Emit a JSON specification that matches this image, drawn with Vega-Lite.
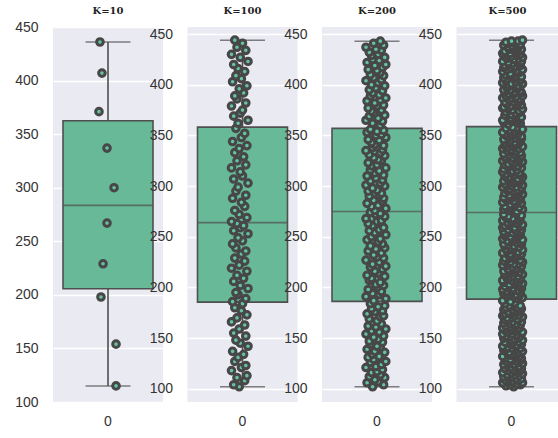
{
"$schema": "https://vega.github.io/schema/vega-lite/v6.json",
"background": "white",
"bounds": "flush",
"spacing": 24.5,
"padding": {"left": 14, "top": 6, "right": 0, "bottom": 0},
"config": {
  "view": {"fill": "#eaeaf2", "stroke": null},
  "axis": {"labelFont": "Liberation Sans", "labelFontSize": 14, "labelColor": "#333333", "ticks": false, "tickSize": 0, "domain": false, "gridColor": "#ffffff", "gridWidth": 1.6, "labelPadding": 15},
  "axisX": {"grid": false, "labelAngle": 0, "labelPadding": 12},
  "title": {"font": "DejaVu Serif", "fontSize": 10, "fontWeight": "bold", "color": "#222222", "anchor": "middle", "frame": "group", "offset": 11, "baseline": "alphabetic"}
},
"datasets": {
"k10": [{"v":436,"j":-0.073},{"v":407,"j":-0.055},{"v":371,"j":-0.082},{"v":337,"j":-0.009},{"v":300,"j":0.055},{"v":267,"j":-0.009},{"v":229,"j":-0.045},{"v":198,"j":-0.064},{"v":154,"j":0.073},{"v":115,"j":0.073}],
"k100": [
{"v":102,"j":-0.03},{"v":104,"j":-0.08},{"v":108,"j":0.02},{"v":111,"j":-0.05},{"v":113,"j":0.04},{"v":118,"j":-0.10},{"v":121,"j":-0.01},{"v":123,"j":0.03},{"v":127,"j":-0.07},{"v":131,"j":-0.04},
{"v":134,"j":0.01},{"v":137,"j":-0.09},{"v":142,"j":0.05},{"v":145,"j":-0.02},{"v":148,"j":-0.06},{"v":152,"j":0.03},{"v":155,"j":-0.08},{"v":159,"j":-0.03},{"v":163,"j":0.02},{"v":166,"j":-0.10},
{"v":170,"j":-0.05},{"v":173,"j":0.04},{"v":177,"j":-0.01},{"v":180,"j":-0.07},{"v":184,"j":0.00},{"v":186,"j":-0.09},{"v":189,"j":0.03},{"v":193,"j":-0.04},{"v":195,"j":-0.06},{"v":199,"j":0.05},
{"v":202,"j":-0.02},{"v":206,"j":-0.08},{"v":209,"j":0.01},{"v":212,"j":-0.05},{"v":216,"j":0.04},{"v":219,"j":-0.10},{"v":222,"j":-0.03},{"v":226,"j":0.02},{"v":229,"j":-0.07},{"v":233,"j":-0.01},
{"v":236,"j":0.03},{"v":239,"j":-0.06},{"v":243,"j":-0.09},{"v":246,"j":0.00},{"v":249,"j":-0.04},{"v":253,"j":0.05},{"v":256,"j":-0.08},{"v":259,"j":-0.02},{"v":261,"j":0.01},{"v":263,"j":-0.05},
{"v":265,"j":-0.10},{"v":269,"j":0.04},{"v":272,"j":-0.03},{"v":276,"j":-0.07},{"v":280,"j":0.02},{"v":284,"j":-0.01},{"v":288,"j":-0.09},{"v":291,"j":0.03},{"v":295,"j":-0.06},{"v":299,"j":-0.04},
{"v":303,"j":0.05},{"v":307,"j":-0.08},{"v":310,"j":0.00},{"v":314,"j":-0.02},{"v":318,"j":-0.10},{"v":321,"j":0.03},{"v":325,"j":-0.05},{"v":329,"j":0.01},{"v":333,"j":-0.07},{"v":337,"j":-0.03},
{"v":340,"j":0.04},{"v":344,"j":-0.09},{"v":348,"j":-0.01},{"v":352,"j":0.02},{"v":357,"j":-0.06},{"v":362,"j":-0.04},{"v":365,"j":0.05},{"v":369,"j":-0.08},{"v":372,"j":-0.02},{"v":375,"j":0.00},
{"v":379,"j":-0.10},{"v":382,"j":0.03},{"v":386,"j":-0.05},{"v":389,"j":-0.07},{"v":392,"j":0.01},{"v":396,"j":-0.03},{"v":399,"j":0.04},{"v":403,"j":-0.09},{"v":406,"j":-0.01},{"v":409,"j":-0.06},
{"v":413,"j":0.02},{"v":416,"j":-0.04},{"v":420,"j":-0.08},{"v":423,"j":0.05},{"v":427,"j":-0.02},{"v":430,"j":-0.10},{"v":434,"j":0.03},{"v":437,"j":-0.05},{"v":441,"j":0.00},{"v":444,"j":-0.07}
],
"k200": [
{"v":102,"j":-0.04},{"v":104,"j":0.06},{"v":106,"j":-0.09},{"v":107,"j":0.01},{"v":109,"j":-0.02},{"v":111,"j":0.07},{"v":112,"j":-0.07},{"v":114,"j":0.03},{"v":116,"j":-0.05},{"v":117,"j":0.00},
{"v":119,"j":0.05},{"v":121,"j":-0.10},{"v":122,"j":-0.01},{"v":124,"j":0.04},{"v":126,"j":-0.06},{"v":127,"j":0.08},{"v":129,"j":-0.03},{"v":131,"j":-0.08},{"v":132,"j":0.02},{"v":134,"j":-0.04},
{"v":136,"j":0.07},{"v":137,"j":-0.02},{"v":139,"j":-0.09},{"v":141,"j":0.03},{"v":142,"j":0.00},{"v":144,"j":-0.06},{"v":146,"j":0.05},{"v":147,"j":-0.07},{"v":149,"j":0.01},{"v":151,"j":-0.03},
{"v":152,"j":0.06},{"v":154,"j":-0.10},{"v":156,"j":0.02},{"v":157,"j":-0.05},{"v":159,"j":0.08},{"v":161,"j":-0.01},{"v":162,"j":-0.08},{"v":164,"j":0.04},{"v":166,"j":-0.04},{"v":167,"j":0.00},
{"v":169,"j":-0.07},{"v":171,"j":0.03},{"v":172,"j":0.06},{"v":174,"j":-0.09},{"v":176,"j":-0.02},{"v":177,"j":0.05},{"v":179,"j":-0.05},{"v":181,"j":0.01},{"v":182,"j":0.07},{"v":184,"j":-0.06},
{"v":187,"j":-0.03},{"v":189,"j":0.08},{"v":191,"j":-0.10},{"v":193,"j":0.02},{"v":194,"j":-0.04},{"v":196,"j":0.04},{"v":198,"j":-0.08},{"v":200,"j":0.00},{"v":202,"j":0.06},{"v":203,"j":-0.01},
{"v":205,"j":0.03},{"v":207,"j":-0.07},{"v":209,"j":-0.05},{"v":211,"j":0.07},{"v":212,"j":-0.09},{"v":214,"j":0.01},{"v":216,"j":-0.02},{"v":218,"j":0.05},{"v":220,"j":-0.06},{"v":221,"j":0.08},
{"v":223,"j":-0.04},{"v":225,"j":0.02},{"v":227,"j":-0.10},{"v":229,"j":0.06},{"v":230,"j":0.00},{"v":232,"j":-0.03},{"v":234,"j":0.04},{"v":236,"j":-0.08},{"v":238,"j":-0.01},{"v":239,"j":0.07},
{"v":241,"j":-0.06},{"v":243,"j":0.05},{"v":245,"j":0.01},{"v":247,"j":-0.09},{"v":248,"j":0.03},{"v":250,"j":-0.05},{"v":252,"j":0.08},{"v":254,"j":-0.02},{"v":256,"j":-0.07},{"v":257,"j":0.02},
{"v":259,"j":0.06},{"v":261,"j":-0.04},{"v":263,"j":-0.08},{"v":265,"j":0.00},{"v":266,"j":0.04},{"v":268,"j":-0.10},{"v":270,"j":0.07},{"v":272,"j":-0.01},{"v":273,"j":0.03},{"v":274,"j":-0.06},
{"v":276,"j":-0.02},{"v":278,"j":0.08},{"v":280,"j":-0.05},{"v":281,"j":0.01},{"v":283,"j":-0.09},{"v":285,"j":0.05},{"v":286,"j":-0.03},{"v":288,"j":0.06},{"v":290,"j":-0.07},{"v":291,"j":0.02},
{"v":293,"j":0.04},{"v":295,"j":-0.08},{"v":296,"j":0.00},{"v":298,"j":-0.04},{"v":300,"j":0.07},{"v":301,"j":-0.10},{"v":303,"j":0.03},{"v":305,"j":-0.06},{"v":306,"j":0.05},{"v":308,"j":-0.01},
{"v":310,"j":-0.09},{"v":311,"j":0.06},{"v":313,"j":-0.02},{"v":315,"j":0.02},{"v":316,"j":-0.06},{"v":318,"j":0.08},{"v":320,"j":-0.05},{"v":321,"j":0.00},{"v":323,"j":-0.08},{"v":325,"j":0.04},
{"v":326,"j":0.01},{"v":328,"j":-0.03},{"v":330,"j":0.07},{"v":331,"j":-0.07},{"v":333,"j":0.03},{"v":335,"j":-0.10},{"v":336,"j":0.05},{"v":338,"j":-0.04},{"v":340,"j":0.06},{"v":341,"j":-0.02},
{"v":343,"j":-0.05},{"v":345,"j":0.02},{"v":346,"j":-0.08},{"v":348,"j":0.08},{"v":350,"j":-0.01},{"v":351,"j":0.04},{"v":353,"j":-0.09},{"v":354,"j":0.00},{"v":355,"j":0.06},{"v":356,"j":-0.06},
{"v":360,"j":0.03},{"v":362,"j":-0.04},{"v":364,"j":0.05},{"v":365,"j":-0.10},{"v":367,"j":0.01},{"v":369,"j":-0.07},{"v":370,"j":0.07},{"v":372,"j":-0.03},{"v":374,"j":-0.05},{"v":375,"j":0.04},
{"v":377,"j":-0.08},{"v":379,"j":0.00},{"v":380,"j":0.06},{"v":382,"j":-0.02},{"v":384,"j":-0.09},{"v":385,"j":0.03},{"v":387,"j":0.08},{"v":389,"j":-0.06},{"v":390,"j":0.02},{"v":392,"j":-0.04},
{"v":394,"j":0.05},{"v":395,"j":-0.07},{"v":397,"j":-0.01},{"v":399,"j":0.07},{"v":400,"j":-0.05},{"v":402,"j":0.01},{"v":404,"j":-0.10},{"v":405,"j":0.04},{"v":407,"j":-0.03},{"v":409,"j":0.06},
{"v":410,"j":-0.06},{"v":412,"j":0.03},{"v":414,"j":0.00},{"v":415,"j":-0.08},{"v":417,"j":0.05},{"v":419,"j":-0.02},{"v":420,"j":0.08},{"v":422,"j":-0.09},{"v":424,"j":0.02},{"v":425,"j":-0.04},
{"v":427,"j":0.07},{"v":429,"j":-0.05},{"v":430,"j":0.01},{"v":432,"j":-0.07},{"v":434,"j":0.04},{"v":435,"j":-0.01},{"v":437,"j":-0.10},{"v":439,"j":0.06},{"v":441,"j":-0.03},{"v":443,"j":0.03}
],
"k500": [
{"v":102,"j":0.02},{"v":103,"j":-0.05},{"v":104,"j":0.08},{"v":104,"j":-0.01},{"v":105,"j":0.05},{"v":106,"j":-0.08},{"v":106,"j":0.10},{"v":107,"j":0.00},{"v":108,"j":-0.03},{"v":108,"j":0.06},
{"v":109,"j":-0.06},{"v":110,"j":0.04},{"v":110,"j":0.09},{"v":111,"j":-0.02},{"v":112,"j":0.01},{"v":112,"j":-0.07},{"v":113,"j":0.07},{"v":114,"j":0.03},{"v":114,"j":-0.04},{"v":115,"j":0.10},
{"v":116,"j":0.00},{"v":116,"j":-0.08},{"v":117,"j":0.05},{"v":118,"j":0.08},{"v":118,"j":-0.03},{"v":119,"j":0.02},{"v":120,"j":-0.06},{"v":120,"j":0.09},{"v":121,"j":-0.01},{"v":122,"j":0.04},
{"v":122,"j":0.07},{"v":123,"j":-0.04},{"v":124,"j":-0.07},{"v":124,"j":0.03},{"v":125,"j":0.10},{"v":126,"j":-0.02},{"v":126,"j":0.06},{"v":127,"j":-0.05},{"v":128,"j":0.01},{"v":128,"j":0.08},
{"v":129,"j":-0.01},{"v":130,"j":0.09},{"v":130,"j":-0.06},{"v":131,"j":0.04},{"v":132,"j":-0.08},{"v":132,"j":0.07},{"v":133,"j":0.00},{"v":134,"j":-0.03},{"v":134,"j":0.05},{"v":135,"j":0.02},
{"v":136,"j":0.06},{"v":136,"j":-0.02},{"v":137,"j":0.10},{"v":138,"j":-0.07},{"v":138,"j":0.03},{"v":139,"j":-0.05},{"v":140,"j":0.08},{"v":140,"j":0.01},{"v":141,"j":-0.04},{"v":142,"j":0.04},
{"v":142,"j":-0.08},{"v":143,"j":0.05},{"v":144,"j":0.00},{"v":144,"j":0.09},{"v":145,"j":-0.03},{"v":146,"j":0.07},{"v":146,"j":-0.06},{"v":147,"j":0.02},{"v":148,"j":0.10},{"v":148,"j":-0.01},
{"v":149,"j":0.03},{"v":150,"j":-0.07},{"v":150,"j":0.06},{"v":151,"j":-0.02},{"v":152,"j":0.08},{"v":152,"j":-0.05},{"v":153,"j":0.04},{"v":154,"j":-0.08},{"v":154,"j":0.01},{"v":155,"j":0.09},
{"v":156,"j":0.10},{"v":156,"j":-0.04},{"v":157,"j":0.02},{"v":158,"j":-0.06},{"v":158,"j":0.05},{"v":159,"j":0.00},{"v":160,"j":-0.08},{"v":160,"j":0.07},{"v":161,"j":-0.01},{"v":162,"j":0.03},
{"v":162,"j":-0.05},{"v":163,"j":0.08},{"v":164,"j":-0.02},{"v":164,"j":0.04},{"v":165,"j":-0.07},{"v":166,"j":0.09},{"v":166,"j":0.01},{"v":167,"j":-0.03},{"v":168,"j":0.06},{"v":168,"j":-0.06},
{"v":169,"j":0.05},{"v":170,"j":0.00},{"v":170,"j":-0.04},{"v":171,"j":0.10},{"v":172,"j":-0.08},{"v":172,"j":0.03},{"v":173,"j":0.07},{"v":174,"j":-0.01},{"v":174,"j":-0.06},{"v":175,"j":0.02},
{"v":176,"j":-0.03},{"v":176,"j":0.07},{"v":177,"j":0.04},{"v":178,"j":-0.07},{"v":178,"j":0.01},{"v":179,"j":0.09},{"v":180,"j":-0.05},{"v":180,"j":0.06},{"v":181,"j":0.00},{"v":182,"j":-0.02},
{"v":182,"j":0.08},{"v":184,"j":-0.06},{"v":185,"j":0.03},{"v":186,"j":-0.01},{"v":187,"j":-0.08},{"v":189,"j":0.05},{"v":190,"j":0.10},{"v":191,"j":-0.04},{"v":191,"j":0.02},{"v":192,"j":0.07},
{"v":193,"j":-0.02},{"v":193,"j":0.04},{"v":194,"j":-0.07},{"v":195,"j":0.08},{"v":195,"j":0.00},{"v":196,"j":-0.05},{"v":197,"j":0.06},{"v":197,"j":0.01},{"v":198,"j":-0.08},{"v":199,"j":0.09},
{"v":199,"j":0.01},{"v":200,"j":-0.03},{"v":201,"j":0.09},{"v":201,"j":-0.06},{"v":202,"j":0.06},{"v":203,"j":0.03},{"v":203,"j":-0.02},{"v":204,"j":0.10},{"v":205,"j":-0.07},{"v":205,"j":0.04},
{"v":206,"j":0.07},{"v":207,"j":-0.08},{"v":207,"j":0.00},{"v":208,"j":0.05},{"v":209,"j":-0.04},{"v":209,"j":0.08},{"v":210,"j":-0.01},{"v":211,"j":0.02},{"v":211,"j":0.06},{"v":212,"j":-0.05},
{"v":213,"j":-0.06},{"v":213,"j":0.10},{"v":214,"j":0.03},{"v":215,"j":-0.02},{"v":215,"j":0.07},{"v":216,"j":-0.07},{"v":217,"j":0.04},{"v":217,"j":0.00},{"v":218,"j":-0.03},{"v":219,"j":0.08},
{"v":219,"j":0.04},{"v":220,"j":0.01},{"v":221,"j":-0.05},{"v":221,"j":0.09},{"v":222,"j":-0.08},{"v":223,"j":0.06},{"v":223,"j":0.02},{"v":224,"j":-0.04},{"v":225,"j":0.10},{"v":225,"j":-0.01},
{"v":226,"j":-0.07},{"v":227,"j":0.06},{"v":227,"j":0.08},{"v":228,"j":-0.03},{"v":229,"j":0.02},{"v":229,"j":-0.06},{"v":230,"j":0.00},{"v":231,"j":0.07},{"v":231,"j":-0.02},{"v":232,"j":0.05},
{"v":233,"j":0.09},{"v":233,"j":-0.01},{"v":234,"j":-0.08},{"v":235,"j":0.04},{"v":235,"j":0.06},{"v":236,"j":-0.04},{"v":237,"j":0.10},{"v":237,"j":0.01},{"v":238,"j":-0.05},{"v":239,"j":0.03},
{"v":239,"j":0.00},{"v":240,"j":0.07},{"v":241,"j":-0.06},{"v":241,"j":0.02},{"v":242,"j":-0.03},{"v":243,"j":0.09},{"v":243,"j":-0.07},{"v":244,"j":0.05},{"v":245,"j":0.08},{"v":245,"j":-0.02},
{"v":246,"j":-0.04},{"v":247,"j":0.03},{"v":247,"j":0.10},{"v":248,"j":-0.08},{"v":249,"j":0.05},{"v":249,"j":0.00},{"v":250,"j":-0.01},{"v":251,"j":0.06},{"v":251,"j":-0.06},{"v":252,"j":0.08},
{"v":253,"j":0.06},{"v":253,"j":-0.05},{"v":254,"j":0.01},{"v":255,"j":0.07},{"v":255,"j":-0.07},{"v":256,"j":0.04},{"v":257,"j":0.09},{"v":257,"j":-0.03},{"v":258,"j":0.02},{"v":259,"j":-0.08},
{"v":259,"j":0.03},{"v":260,"j":0.08},{"v":261,"j":-0.02},{"v":261,"j":-0.06},{"v":262,"j":0.10},{"v":263,"j":-0.01},{"v":263,"j":0.05},{"v":264,"j":-0.04},{"v":265,"j":0.00},{"v":265,"j":0.07},
{"v":266,"j":-0.08},{"v":267,"j":0.02},{"v":267,"j":0.06},{"v":268,"j":0.01},{"v":269,"j":-0.05},{"v":269,"j":0.08},{"v":270,"j":-0.03},{"v":271,"j":0.09},{"v":272,"j":-0.07},{"v":273,"j":0.04},
{"v":275,"j":0.05},{"v":276,"j":-0.03},{"v":277,"j":-0.07},{"v":277,"j":0.10},{"v":278,"j":0.00},{"v":279,"j":-0.02},{"v":279,"j":0.07},{"v":280,"j":-0.06},{"v":281,"j":0.03},{"v":281,"j":0.01},
{"v":282,"j":-0.01},{"v":283,"j":0.09},{"v":283,"j":0.04},{"v":284,"j":-0.08},{"v":285,"j":0.06},{"v":285,"j":0.02},{"v":286,"j":-0.04},{"v":287,"j":0.08},{"v":287,"j":-0.05},{"v":288,"j":0.00},
{"v":289,"j":0.08},{"v":289,"j":-0.07},{"v":290,"j":0.01},{"v":291,"j":0.05},{"v":291,"j":-0.02},{"v":292,"j":0.10},{"v":293,"j":-0.06},{"v":293,"j":0.03},{"v":294,"j":0.07},{"v":295,"j":-0.03},
{"v":295,"j":0.02},{"v":296,"j":0.06},{"v":297,"j":-0.05},{"v":297,"j":-0.01},{"v":298,"j":0.09},{"v":299,"j":-0.08},{"v":299,"j":0.04},{"v":300,"j":0.00},{"v":301,"j":-0.04},{"v":301,"j":0.10},
{"v":302,"j":-0.06},{"v":303,"j":0.01},{"v":303,"j":0.07},{"v":304,"j":0.03},{"v":305,"j":-0.07},{"v":305,"j":0.05},{"v":306,"j":0.08},{"v":307,"j":-0.02},{"v":307,"j":0.06},{"v":308,"j":-0.04},
{"v":309,"j":0.10},{"v":309,"j":-0.02},{"v":310,"j":-0.06},{"v":311,"j":0.08},{"v":311,"j":0.02},{"v":312,"j":-0.05},{"v":313,"j":0.00},{"v":313,"j":0.07},{"v":314,"j":-0.08},{"v":315,"j":0.04},
{"v":315,"j":0.01},{"v":316,"j":0.05},{"v":317,"j":-0.04},{"v":317,"j":-0.07},{"v":318,"j":0.09},{"v":319,"j":0.03},{"v":319,"j":-0.03},{"v":320,"j":0.06},{"v":321,"j":0.00},{"v":321,"j":-0.06},
{"v":322,"j":-0.03},{"v":323,"j":0.08},{"v":323,"j":0.02},{"v":324,"j":0.10},{"v":325,"j":-0.08},{"v":325,"j":0.00},{"v":326,"j":0.07},{"v":327,"j":-0.05},{"v":327,"j":0.04},{"v":328,"j":0.01},
{"v":329,"j":0.06},{"v":329,"j":-0.06},{"v":330,"j":0.09},{"v":331,"j":-0.02},{"v":331,"j":0.03},{"v":332,"j":-0.07},{"v":333,"j":0.05},{"v":333,"j":0.08},{"v":334,"j":-0.01},{"v":335,"j":-0.04},
{"v":335,"j":0.04},{"v":336,"j":0.00},{"v":337,"j":-0.08},{"v":337,"j":0.07},{"v":338,"j":-0.04},{"v":339,"j":0.10},{"v":339,"j":0.01},{"v":340,"j":-0.06},{"v":341,"j":0.06},{"v":341,"j":0.02},
{"v":342,"j":-0.05},{"v":343,"j":0.07},{"v":343,"j":0.03},{"v":344,"j":-0.03},{"v":345,"j":0.08},{"v":345,"j":-0.01},{"v":346,"j":-0.07},{"v":347,"j":0.04},{"v":347,"j":0.09},{"v":348,"j":-0.02},
{"v":349,"j":0.09},{"v":349,"j":-0.04},{"v":350,"j":0.05},{"v":351,"j":0.00},{"v":351,"j":-0.06},{"v":352,"j":0.06},{"v":353,"j":0.02},{"v":353,"j":-0.08},{"v":354,"j":0.03},{"v":355,"j":0.07},
{"v":355,"j":-0.02},{"v":356,"j":0.10},{"v":357,"j":-0.05},{"v":357,"j":0.04},{"v":358,"j":0.01},{"v":361,"j":-0.03},{"v":362,"j":0.08},{"v":363,"j":-0.07},{"v":363,"j":0.05},{"v":364,"j":0.00},
{"v":365,"j":0.07},{"v":365,"j":-0.08},{"v":366,"j":0.02},{"v":367,"j":0.06},{"v":367,"j":-0.01},{"v":368,"j":0.09},{"v":369,"j":-0.04},{"v":369,"j":0.03},{"v":370,"j":-0.06},{"v":371,"j":0.05},
{"v":371,"j":0.00},{"v":372,"j":0.04},{"v":373,"j":0.08},{"v":373,"j":-0.05},{"v":374,"j":0.07},{"v":375,"j":-0.02},{"v":375,"j":0.01},{"v":376,"j":0.10},{"v":377,"j":-0.08},{"v":377,"j":-0.03},
{"v":378,"j":-0.07},{"v":379,"j":0.03},{"v":379,"j":-0.01},{"v":380,"j":0.09},{"v":381,"j":-0.04},{"v":381,"j":0.05},{"v":382,"j":0.06},{"v":383,"j":-0.06},{"v":383,"j":0.02},{"v":384,"j":0.08},
{"v":385,"j":0.05},{"v":385,"j":-0.02},{"v":386,"j":0.07},{"v":387,"j":-0.08},{"v":387,"j":0.00},{"v":388,"j":0.04},{"v":389,"j":-0.05},{"v":389,"j":0.10},{"v":390,"j":0.01},{"v":391,"j":-0.03},
{"v":391,"j":0.02},{"v":392,"j":0.09},{"v":393,"j":-0.06},{"v":393,"j":0.03},{"v":394,"j":0.08},{"v":395,"j":-0.07},{"v":395,"j":-0.01},{"v":396,"j":0.05},{"v":397,"j":-0.04},{"v":397,"j":0.06},
{"v":398,"j":-0.04},{"v":399,"j":0.06},{"v":399,"j":0.01},{"v":400,"j":-0.03},{"v":401,"j":0.10},{"v":401,"j":0.00},{"v":402,"j":-0.08},{"v":403,"j":0.07},{"v":403,"j":0.04},{"v":404,"j":-0.05},
{"v":405,"j":0.08},{"v":405,"j":-0.05},{"v":406,"j":0.04},{"v":407,"j":0.02},{"v":407,"j":-0.07},{"v":408,"j":0.09},{"v":409,"j":0.03},{"v":409,"j":-0.02},{"v":410,"j":-0.06},{"v":411,"j":0.01},
{"v":411,"j":-0.01},{"v":412,"j":0.07},{"v":413,"j":-0.08},{"v":413,"j":0.06},{"v":414,"j":0.05},{"v":415,"j":-0.04},{"v":415,"j":0.10},{"v":416,"j":0.00},{"v":417,"j":0.03},{"v":417,"j":-0.07},
{"v":418,"j":0.03},{"v":419,"j":-0.06},{"v":419,"j":0.08},{"v":420,"j":-0.02},{"v":421,"j":0.01},{"v":421,"j":0.07},{"v":422,"j":-0.03},{"v":423,"j":-0.08},{"v":423,"j":0.09},{"v":424,"j":0.04},
{"v":425,"j":0.06},{"v":425,"j":0.02},{"v":426,"j":-0.04},{"v":427,"j":0.10},{"v":427,"j":-0.05},{"v":428,"j":0.00},{"v":429,"j":0.05},{"v":429,"j":-0.07},{"v":430,"j":0.08},{"v":431,"j":-0.01},
{"v":431,"j":-0.08},{"v":432,"j":0.04},{"v":433,"j":0.07},{"v":433,"j":-0.06},{"v":434,"j":0.03},{"v":435,"j":-0.02},{"v":435,"j":0.09},{"v":436,"j":0.01},{"v":437,"j":-0.03},{"v":437,"j":0.06},
{"v":438,"j":0.01},{"v":439,"j":-0.07},{"v":439,"j":0.05},{"v":440,"j":0.08},{"v":441,"j":-0.04},{"v":441,"j":0.02},{"v":442,"j":-0.05},{"v":443,"j":0.06},{"v":443,"j":0.00},{"v":444,"j":0.10}
]
},
"hconcat": [
{
 "title": {"text": "K=10", "offset": 4}, "width": 110, "height": 375,
 "data": {"name": "k10"},
 "encoding": {"x": {"datum": "0", "type": "nominal", "scale": {"paddingInner": 0, "paddingOuter": 0}, "axis": {"title": null}}},
 "layer": [
  {"transform": [{"aggregate": [{"op":"min","field":"v","as":"lo"},{"op":"max","field":"v","as":"hi"},{"op":"q1","field":"v","as":"q1"},{"op":"q3","field":"v","as":"q3"},{"op":"median","field":"v","as":"md"}]}],
   "layer": [
    {"mark": {"type":"rule","color":"#4f4f4f","strokeWidth":1.6}, "encoding": {"y": {"field":"lo","type":"quantitative","title":null,"scale":{"domain":[100,450],"nice":false,"zero":false},"axis":{"values":[100,150,200,250,300,350,400,450],"grid":true}}, "y2": {"field":"hi"}}},
    {"mark": {"type":"tick","color":"#4f4f4f","thickness":1.6,"size":45}, "encoding": {"y": {"field":"lo","type":"quantitative","title":null}}},
    {"mark": {"type":"tick","color":"#4f4f4f","thickness":1.6,"size":45}, "encoding": {"y": {"field":"hi","type":"quantitative","title":null}}},
    {"mark": {"type":"bar","size":90,"fill":"#68b998","stroke":"#4f4f4f","strokeWidth":1.6}, "encoding": {"y": {"field":"q1","type":"quantitative","title":null}, "y2": {"field":"q3"}}},
    {"mark": {"type":"tick","color":"#4f4f4f","thickness":1.6,"size":90}, "encoding": {"y": {"field":"md","type":"quantitative","title":null}}}
   ]},
  {"mark": {"type":"circle","size":44,"fill":"#66c2a5","stroke":"#474747","strokeWidth":3,"opacity":1},
   "encoding": {"y": {"field":"v","type":"quantitative","title":null}, "xOffset": {"field":"j","type":"quantitative","scale":{"domain":[-0.5,0.5]}}}}
 ]
},
{
 "title": "K=100", "width": 110, "height": 375,
 "data": {"name": "k100"},
 "encoding": {"x": {"datum": "0", "type": "nominal", "scale": {"paddingInner": 0, "paddingOuter": 0}, "axis": {"title": null}}},
 "layer": [
  {"transform": [{"aggregate": [{"op":"min","field":"v","as":"lo"},{"op":"max","field":"v","as":"hi"},{"op":"q1","field":"v","as":"q1"},{"op":"q3","field":"v","as":"q3"},{"op":"median","field":"v","as":"md"}]}],
   "layer": [
    {"mark": {"type":"rule","color":"#4f4f4f","strokeWidth":1.6}, "encoding": {"y": {"field":"lo","type":"quantitative","title":null,"scale":{"domain":[87,457],"nice":false,"zero":false},"axis":{"values":[100,150,200,250,300,350,400,450],"grid":true}}, "y2": {"field":"hi"}}},
    {"mark": {"type":"tick","color":"#4f4f4f","thickness":1.6,"size":45}, "encoding": {"y": {"field":"lo","type":"quantitative","title":null}}},
    {"mark": {"type":"tick","color":"#4f4f4f","thickness":1.6,"size":45}, "encoding": {"y": {"field":"hi","type":"quantitative","title":null}}},
    {"mark": {"type":"bar","size":90,"fill":"#68b998","stroke":"#4f4f4f","strokeWidth":1.6}, "encoding": {"y": {"field":"q1","type":"quantitative","title":null}, "y2": {"field":"q3"}}},
    {"mark": {"type":"tick","color":"#4f4f4f","thickness":1.6,"size":90}, "encoding": {"y": {"field":"md","type":"quantitative","title":null}}}
   ]},
  {"mark": {"type":"circle","size":44,"fill":"#66c2a5","stroke":"#474747","strokeWidth":3,"opacity":1},
   "encoding": {"y": {"field":"v","type":"quantitative","title":null}, "xOffset": {"field":"j","type":"quantitative","scale":{"domain":[-0.5,0.5]}}}}
 ]
},
{
 "title": "K=200", "width": 110, "height": 375,
 "data": {"name": "k200"},
 "encoding": {"x": {"datum": "0", "type": "nominal", "scale": {"paddingInner": 0, "paddingOuter": 0}, "axis": {"title": null}}},
 "layer": [
  {"transform": [{"aggregate": [{"op":"min","field":"v","as":"lo"},{"op":"max","field":"v","as":"hi"},{"op":"q1","field":"v","as":"q1"},{"op":"q3","field":"v","as":"q3"},{"op":"median","field":"v","as":"md"}]}],
   "layer": [
    {"mark": {"type":"rule","color":"#4f4f4f","strokeWidth":1.6}, "encoding": {"y": {"field":"lo","type":"quantitative","title":null,"scale":{"domain":[87,457],"nice":false,"zero":false},"axis":{"values":[100,150,200,250,300,350,400,450],"grid":true}}, "y2": {"field":"hi"}}},
    {"mark": {"type":"tick","color":"#4f4f4f","thickness":1.6,"size":45}, "encoding": {"y": {"field":"lo","type":"quantitative","title":null}}},
    {"mark": {"type":"tick","color":"#4f4f4f","thickness":1.6,"size":45}, "encoding": {"y": {"field":"hi","type":"quantitative","title":null}}},
    {"mark": {"type":"bar","size":90,"fill":"#68b998","stroke":"#4f4f4f","strokeWidth":1.6}, "encoding": {"y": {"field":"q1","type":"quantitative","title":null}, "y2": {"field":"q3"}}},
    {"mark": {"type":"tick","color":"#4f4f4f","thickness":1.6,"size":90}, "encoding": {"y": {"field":"md","type":"quantitative","title":null}}}
   ]},
  {"mark": {"type":"circle","size":44,"fill":"#66c2a5","stroke":"#474747","strokeWidth":3,"opacity":1},
   "encoding": {"y": {"field":"v","type":"quantitative","title":null}, "xOffset": {"field":"j","type":"quantitative","scale":{"domain":[-0.5,0.5]}}}}
 ]
},
{
 "title": "K=500", "width": 102, "height": 375,
 "data": {"name": "k500"},
 "encoding": {"x": {"datum": "0", "type": "nominal", "scale": {"paddingInner": 0, "paddingOuter": 0, "range": [0, 110]}, "axis": {"title": null}}},
 "layer": [
  {"transform": [{"aggregate": [{"op":"min","field":"v","as":"lo"},{"op":"max","field":"v","as":"hi"},{"op":"q1","field":"v","as":"q1"},{"op":"q3","field":"v","as":"q3"},{"op":"median","field":"v","as":"md"}]}],
   "layer": [
    {"mark": {"type":"rule","color":"#4f4f4f","strokeWidth":1.6}, "encoding": {"y": {"field":"lo","type":"quantitative","title":null,"scale":{"domain":[87,457],"nice":false,"zero":false},"axis":{"values":[100,150,200,250,300,350,400,450],"grid":true}}, "y2": {"field":"hi"}}},
    {"mark": {"type":"tick","color":"#4f4f4f","thickness":1.6,"size":45}, "encoding": {"y": {"field":"lo","type":"quantitative","title":null}}},
    {"mark": {"type":"tick","color":"#4f4f4f","thickness":1.6,"size":45}, "encoding": {"y": {"field":"hi","type":"quantitative","title":null}}},
    {"mark": {"type":"bar","size":90,"fill":"#68b998","stroke":"#4f4f4f","strokeWidth":1.6}, "encoding": {"y": {"field":"q1","type":"quantitative","title":null}, "y2": {"field":"q3"}}},
    {"mark": {"type":"tick","color":"#4f4f4f","thickness":1.6,"size":90}, "encoding": {"y": {"field":"md","type":"quantitative","title":null}}}
   ]},
  {"mark": {"type":"circle","size":44,"fill":"#66c2a5","stroke":"#474747","strokeWidth":3,"opacity":1},
   "encoding": {"y": {"field":"v","type":"quantitative","title":null}, "xOffset": {"field":"j","type":"quantitative","scale":{"domain":[-0.5,0.5]}}}}
 ]
}
]
}
